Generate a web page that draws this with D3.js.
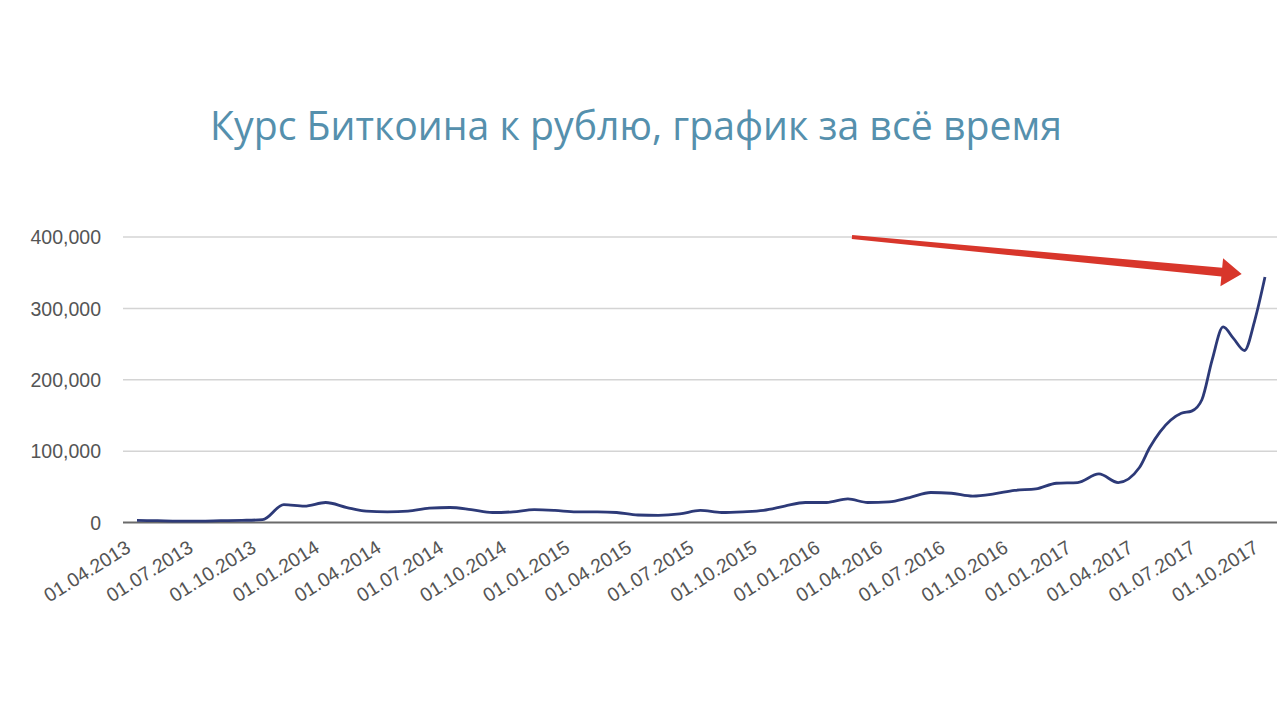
<!DOCTYPE html>
<html>
<head>
<meta charset="utf-8">
<script src="https://cdn.jsdelivr.net/npm/d3@7"></script>
<style>
  html, body { margin: 0; padding: 0; background: #ffffff; }
  svg { display: block; }
</style>
</head>
<body>
<svg id="chart" width="1280" height="720"></svg>
<script>
// ---------- data ----------
const title = "Курс Биткоина к рублю, график за всё время";

const dates = [
  "2013-04-01","2013-05-01","2013-06-01","2013-07-01","2013-08-01","2013-09-01","2013-10-01",
  "2013-11-01","2013-12-01","2014-01-01","2014-02-01","2014-03-01","2014-04-01","2014-05-01",
  "2014-06-01","2014-07-01","2014-08-01","2014-09-01","2014-10-01","2014-11-01","2014-12-01",
  "2015-01-01","2015-02-01","2015-03-01","2015-04-01","2015-05-01","2015-06-01","2015-07-01",
  "2015-08-01","2015-09-01","2015-10-01","2015-11-01","2015-12-01","2016-01-01","2016-02-01",
  "2016-03-01","2016-04-01","2016-05-01","2016-06-01","2016-07-01","2016-08-01","2016-09-01",
  "2016-10-01","2016-11-01","2016-12-01","2017-01-01","2017-02-01","2017-03-01","2017-04-01",
  "2017-04-16","2017-05-01","2017-06-01","2017-06-16","2017-07-01","2017-07-16","2017-08-01",
  "2017-08-16","2017-09-01","2017-09-16","2017-10-01"
];
const rubPrice = [
  3000, 2500, 2000, 2000, 2500, 3000, 4000,
  25000, 23000, 28000, 21000, 16000, 15000, 16000,
  20000, 21000, 18000, 14000, 15000, 18000, 17000,
  15000, 15000, 14000, 10500, 10000, 12000, 17000,
  14000, 15000, 17000, 23000, 28000, 28000, 33000,
  28000, 29000, 35000, 42000, 41000, 37000, 40000,
  45000, 47000, 55000, 56000, 68000, 56000, 77000,
  105000, 127000, 153000, 156000, 172000, 228000, 274000,
  258000, 241000, 283000, 344000
];

const yTicks = [0, 100000, 200000, 300000, 400000];
const xTickDates = [
  "2013-04-01","2013-07-01","2013-10-01","2014-01-01","2014-04-01","2014-07-01","2014-10-01",
  "2015-01-01","2015-04-01","2015-07-01","2015-10-01","2016-01-01","2016-04-01","2016-07-01",
  "2016-10-01","2017-01-01","2017-04-01","2017-07-01","2017-10-01"
];

// annotation arrow (in data space): from [date, value] to [date, value]
const arrowFrom = ["2016-02-07", 400000];
const arrowTo   = ["2017-08-28", 348000];

// ---------- layout ----------
const parse = d3.timeParse("%Y-%m-%d");
const fmtDate = d3.timeFormat("%d.%m.%Y");
const series = dates.map((d, i) => ({ date: parse(d), value: rubPrice[i] }));

const plotLeft = 123, plotRight = 1277;
const x = d3.scaleTime()
  .domain([parse(dates[0]), parse(dates[dates.length - 1])])
  .range([137, 1265]);
const y = d3.scaleLinear().domain([0, 400000]).range([522.5, 237]);

const svg = d3.select("#chart");
svg.append("rect").attr("width", 1280).attr("height", 720).attr("fill", "#ffffff");

// title
const t = svg.append("text")
  .attr("x", 636).attr("y", 140)
  .attr("text-anchor", "middle")
  .attr("font-family", "'Open Sans', 'DejaVu Sans', sans-serif")
  .attr("font-size", 32)
  .attr("fill", "#5590ad")
  .text(title);
const w = t.node().getComputedTextLength();
t.attr("font-size", 32 * 852 / w);

// gridlines
svg.append("g").selectAll("line")
  .data(yTicks.filter(v => v !== 0))
  .join("line")
  .attr("x1", plotLeft).attr("x2", plotRight)
  .attr("y1", d => y(d)).attr("y2", d => y(d))
  .attr("stroke", "#d4d4d4").attr("stroke-width", 1.5);

// y axis labels
const yAxis = d3.axisLeft(y).tickValues(yTicks).tickFormat(d3.format(",")).tickSize(0).tickPadding(0);
const yg = svg.append("g").attr("transform", `translate(101,0)`).call(yAxis);
yg.select(".domain").remove();
yg.selectAll("text")
  .attr("font-family", "'Liberation Sans', Arial, sans-serif")
  .attr("font-size", 19.5)
  .attr("fill", "#555555")
  .attr("dy", "0.35em");

// baseline
svg.append("line")
  .attr("x1", plotLeft).attr("x2", plotRight)
  .attr("y1", y(0)).attr("y2", y(0))
  .attr("stroke", "#6a6a6a").attr("stroke-width", 2);

// x axis labels
const xAxis = d3.axisBottom(x).tickValues(xTickDates.map(parse)).tickFormat(fmtDate).tickSize(0).tickPadding(0);
const xg = svg.append("g").call(xAxis);
xg.select(".domain").remove();
xg.selectAll(".tick").attr("transform", d => `translate(${x(d) - 5},551)`);
xg.selectAll("text")
  .attr("font-family", "'Liberation Sans', Arial, sans-serif")
  .attr("font-size", 19.5)
  .attr("fill", "#555555")
  .attr("text-anchor", "end")
  .attr("x", 0).attr("y", 0).attr("dy", 0)
  .attr("transform", "rotate(-32)");

// line
const line = d3.line()
  .x(d => x(d.date))
  .y(d => y(d.value))
  .curve(d3.curveMonotoneX);
svg.append("path")
  .datum(series)
  .attr("d", line)
  .attr("fill", "none")
  .attr("stroke", "#2d3a78")
  .attr("stroke-width", 2.8)
  .attr("stroke-linejoin", "round");

// arrow annotation
const ax0 = x(parse(arrowFrom[0])), ay0 = y(arrowFrom[1]);
const ax1 = x(parse(arrowTo[0])), ay1 = y(arrowTo[1]);
const dx = ax1 - ax0, dy = ay1 - ay0, len = Math.hypot(dx, dy);
const ux = dx / len, uy = dy / len, nx = -uy, ny = ux;
const headLen = 20, headW = 14, shaftStart = 2.0, shaftEnd = 4.4;
const hb = [ax1 - ux * headLen, ay1 - uy * headLen];
const pts = [
  [ax0 + nx * shaftStart, ay0 + ny * shaftStart],
  [hb[0] + nx * shaftEnd, hb[1] + ny * shaftEnd],
  [hb[0] + nx * headW, hb[1] + ny * headW],
  [ax1, ay1],
  [hb[0] - nx * headW, hb[1] - ny * headW],
  [hb[0] - nx * shaftEnd, hb[1] - ny * shaftEnd],
  [ax0 - nx * shaftStart, ay0 - ny * shaftStart]
];
svg.append("path")
  .attr("d", "M" + pts.map(p => p.join(",")).join("L") + "Z")
  .attr("fill", "#d8362b");
</script>
</body>
</html>
